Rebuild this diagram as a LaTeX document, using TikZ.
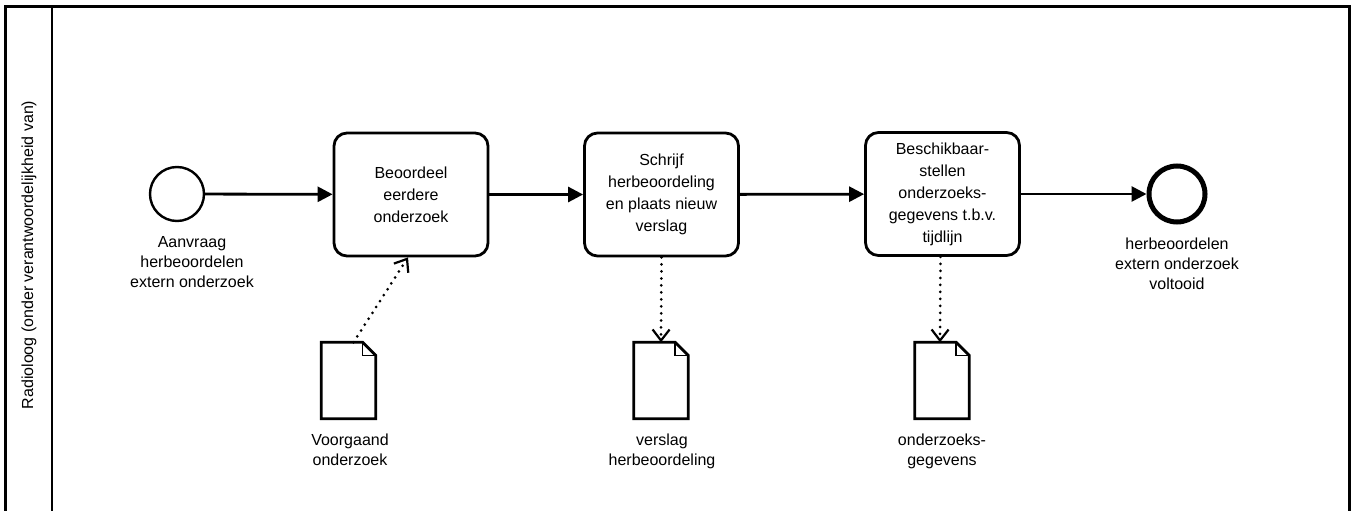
\documentclass[tikz,border=0pt]{standalone}
\usepackage{fontspec}
\setmainfont{Liberation Sans}
\usetikzlibrary{arrows.meta}
\tikzset{
  px/.style={x=1pt,y=-1pt},
  lane/.style={line width=2.8pt},
  task/.style={draw, line width=2.8pt, rounded corners=13pt, minimum width=154pt, minimum height=123pt, inner sep=0pt, align=center, font=\fontsize{16}{22}\selectfont},
  startev/.style={draw, circle, line width=2.4pt, minimum size=54pt, inner sep=0pt},
  endev/.style={draw, circle, line width=5pt, minimum size=56pt, inner sep=0pt},
  lbl/.style={align=center, inner sep=0pt, font=\fontsize{16}{20}\selectfont},
  docnode/.style={minimum width=54pt, minimum height=76pt, inner sep=0pt},
  docline/.style={line width=2.8pt, line join=miter},
  foldline/.style={line width=1.5pt},
  seqflow/.style={line width=2.8pt, -{Triangle[length=15pt,width=15pt]}},
  assoc/.style={line width=3pt, line cap=round, dash pattern=on 0pt off 7pt, -{Straight Barb[length=11pt,width=17pt,line width=2.2pt]}}
}
\begin{document}
\begin{tikzpicture}[px]
\useasboundingbox (0,0) rectangle (1358,511);
% pool / lane
\draw[lane] (5.5,515) -- (5.5,6.5) -- (1349.5,6.5) -- (1349.5,515);
\draw[lane] (52,6.5) -- (52,515);
\node[lbl, rotate=90] (lanelbl) at (29,255) {Radioloog (onder verantwoordelijkheid van)};

% events
\node[startev] (start) at (177,194) {};
\node[lbl, anchor=north] (startlbl) at (192,236) {Aanvraag\\herbeoordelen\\extern onderzoek};
\node[endev] (end) at (1177,194) {};
\node[lbl, anchor=north] (endlbl) at (1177,238) {herbeoordelen\\extern onderzoek\\voltooid};

% tasks
\node[task] (t1) at (411,194.5) {Beoordeel\\eerdere\\onderzoek};
\node[task] (t2) at (661.5,194.5) {Schrijf\\herbeoordeling\\en plaats nieuw\\verslag};
\node[task] (t3) at (942.5,194) {Beschikbaar-\\stellen\\onderzoeks-\\gegevens t.b.v.\\tijdlijn};

% data objects
\node[docnode] (d1) at (348.5,380.5) {};
\node[docnode] (d2) at (661,380.5) {};
\node[docnode] (d3) at (942,380.5) {};
\foreach \d in {d1,d2,d3}{
  \draw[docline] (\d.north west) -- ([xshift=-13pt]\d.north east) -- ([yshift=-13pt]\d.north east) -- (\d.south east) -- (\d.south west) -- cycle;
  \draw[foldline] ([xshift=-13pt]\d.north east) -- ([xshift=-13pt,yshift=-13pt]\d.north east) -- ([yshift=-13pt]\d.north east);
}
\node[lbl, anchor=north] (d1lbl) at (350,434) {Voorgaand\\onderzoek};
\node[lbl, anchor=north] (d2lbl) at (662,434) {verslag\\herbeoordeling};
\node[lbl, anchor=north] (d3lbl) at (942,434) {onderzoeks-\\gegevens};

% sequence flows
\draw[seqflow] (start) -- (t1);
\draw[seqflow] (t1) -- (t2);
\draw[seqflow] (t2) -- (t3);
\draw[seqflow] (t3) -- (end);

% associations
\draw[assoc] ([xshift=5pt]d1.north) -- ([xshift=-3pt]t1.south);
\draw[assoc] (t2.south) -- (d2.north);
\draw[assoc] ([xshift=-2pt]t3.south) -- ([xshift=-2pt]d3.north);
\end{tikzpicture}
\end{document}
